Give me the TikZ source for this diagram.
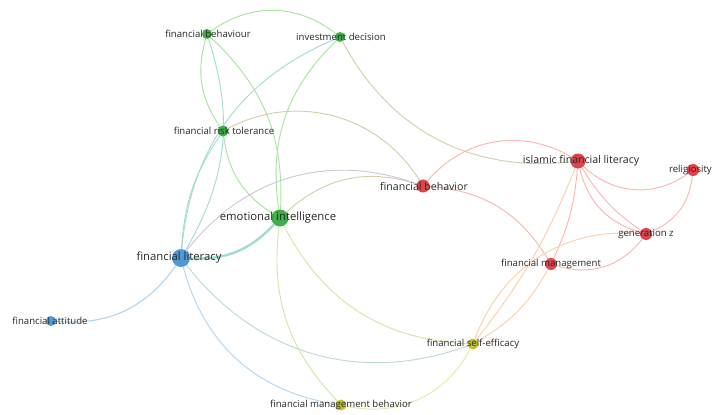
\documentclass[tikz,border=0pt]{standalone}
\usepackage{fontspec}
\setmainfont{Open Sans}
\usetikzlibrary{backgrounds}
\definecolor{ngreen}{RGB}{62,174,72}
\definecolor{nblue}{RGB}{80,152,214}
\definecolor{nred}{RGB}{222,68,78}
\definecolor{nyellow}{RGB}{192,194,48}
\definecolor{labc}{RGB}{40,40,40}
\definecolor{egreen}{RGB}{168,228,158}
\definecolor{eteal}{RGB}{160,220,210}
\definecolor{eblue}{RGB}{178,212,242}
\definecolor{ered}{RGB}{250,182,174}
\definecolor{eorange}{RGB}{248,208,170}
\definecolor{eyellow}{RGB}{230,234,165}
\definecolor{eygreen}{RGB}{205,232,165}
\definecolor{eolive}{RGB}{214,205,168}
\definecolor{epurple}{RGB}{210,195,222}
\definecolor{eblyel}{RGB}{190,216,214}
\begin{document}
\begin{tikzpicture}[x=1pt,y=1pt,
  vn/.style={circle,inner sep=0pt,draw=none},
  lab/.style={text=labc,inner sep=0pt,font=\fontsize{9.6}{10}\selectfont},
  labm/.style={lab,font=\fontsize{10.6}{11}\selectfont},
  labb/.style={lab,font=\fontsize{11.3}{12}\selectfont},
  ed/.style={line width=0.9pt},
  ge/.style={ed,draw=egreen},
  te/.style={ed,draw=eteal},
  be/.style={ed,draw=eblue},
  re/.style={ed,draw=ered},
  oe/.style={ed,draw=eorange},
  ye/.style={ed,draw=eyellow},
  yg/.style={ed,draw=eygreen},
  ol/.style={ed,draw=eolive},
  pu/.style={ed,draw=epurple},
  by/.style={ed,draw=eblyel}]
\useasboundingbox (0,0) rectangle (713,-415);
% nodes
\node[vn,fill=ngreen,minimum size=10] (fbh) at (207,-34) {};
\node[vn,fill=ngreen,minimum size=10] (id) at (340,-37) {};
\node[vn,fill=ngreen,minimum size=11] (frt) at (223,-131) {};
\node[vn,fill=ngreen,minimum size=17] (ei) at (280,-218) {};
\node[vn,fill=nblue,minimum size=18] (fl) at (181,-258) {};
\node[vn,fill=nblue,minimum size=10] (fa) at (51,-321) {};
\node[vn,fill=nred,minimum size=13] (fbe) at (423,-186) {};
\node[vn,fill=nred,minimum size=15] (ifl) at (578,-161) {};
\node[vn,fill=nred,minimum size=12] (rel) at (693,-170) {};
\node[vn,fill=nred,minimum size=12] (gz) at (646,-234) {};
\node[vn,fill=nred,minimum size=12] (fm) at (551,-264) {};
\node[vn,fill=nyellow,minimum size=11] (fse) at (473,-344) {};
\node[vn,fill=nyellow,minimum size=11] (fmb) at (341,-405) {};
% labels
\node[lab] (fbhL) at (208,-34) {financial behaviour};
\node[lab] (idL) at (341,-37) {investment decision};
\node[lab] (frtL) at (224,-131) {financial risk tolerance};
\node[labb] (eiL) at (278,-218) {emotional intelligence};
\node[labb] (flL) at (179,-258) {financial literacy};
\node[lab] (faL) at (50,-321) {financial attitude};
\node[labm] (fbeL) at (424,-186) {financial behavior};
\node[labm] (iflL) at (581,-161) {islamic financial literacy};
\node[lab,anchor=east] (relL) at (712,-170) {religiosity};
\node[lab] (gzL) at (646,-234) {generation z};
\node[lab] (fmL) at (551,-264) {financial management};
\node[lab] (fseL) at (473,-344) {financial self-efficacy};
\node[lab] (fmbL) at (341,-405) {financial management behavior};
% edges
\begin{scope}[on background layer]
\fill[white] (0,0) rectangle (713,-415);
\draw[ge] (fbh) to[bend left=37] (id);
\draw[ge] (fbh) to[bend right=25] (frt);
\draw[te] (fbh) to[bend left=24] (fl);
\draw[ge] (fbh) to[bend left=25] (ei);
\draw[te] (id) to[bend right=31] (fl);
\draw[ge] (id) to[bend right=27] (ei);
\draw[ol] (id) to[bend right=34] (ifl);
\draw[ol] (frt) to[bend left=43] (fbe);
\draw[te] (frt) to[bend right=15] (fl);
\draw[ge] (frt) to[bend right=25] (ei);
\draw[te,line width=2.4pt] (ei) to[bend left=25] (fl);
\draw[ol] (ei) to[bend left=30] (fbe);
\draw[yg] (ei) to[bend right=25] (fmb);
\draw[yg] (ei) to[bend right=30] (fse);
\draw[pu] (fl) to[bend left=36] (fbe);
\draw[be,line width=1.1pt] (fl) to[bend left=30] (fa);
\draw[by] (fl) to[bend right=36] (fse);
\draw[be] (fl) to[bend right=33] (fmb);
\draw[ye] (fmb) to[bend right=37] (fse);
\draw[re] (fbe) to[bend left=40] (ifl);
\draw[re] (fbe) to[bend left=27] (fm);
\draw[re] (ifl) to[bend right=40] (rel);
\draw[re] (ifl) to[bend right=30] (gz);
\draw[re] (ifl) to[bend right=12] (gz);
\draw[re] (ifl) to[bend left=10] (fm);
\draw[oe] (ifl) to[bend left=8] (fse);
\draw[re] (rel) to[bend left=30] (gz);
\draw[re] (gz) to[bend left=35] (fm);
\draw[oe] (gz) to[bend right=37] (fse);
\draw[oe] (fm) to[bend left=15] (fse);
\end{scope}
\end{tikzpicture}
\end{document}
